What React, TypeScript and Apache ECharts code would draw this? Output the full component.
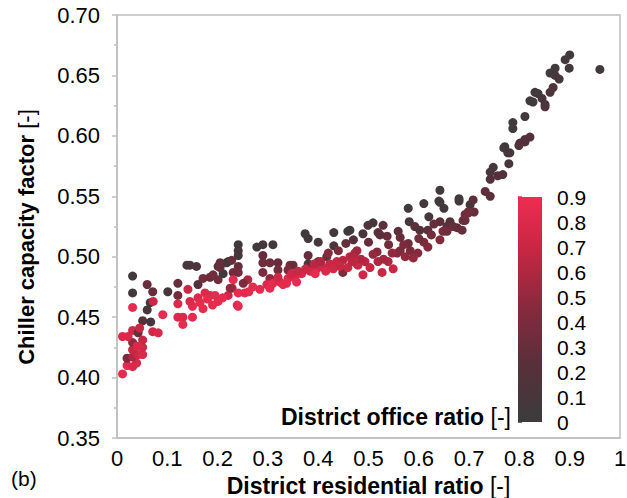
import React, { useEffect, useRef } from "react";
import * as echarts from "echarts";

// District residential ratio [-]
const resRatio = [
  0.011, 0.020, 0.031, 0.020, 0.039, 0.031, 0.042, 0.051, 0.031, 0.051,
  0.031, 0.051, 0.011, 0.022, 0.031, 0.042, 0.051, 0.067, 0.071, 0.082,
  0.031, 0.031, 0.031, 0.060, 0.071, 0.066, 0.060, 0.072, 0.091, 0.101,
  0.040, 0.045,
  0.121, 0.121, 0.121, 0.121, 0.131, 0.131, 0.141, 0.150, 0.150, 0.145,
  0.161, 0.161, 0.171, 0.171, 0.145, 0.158, 0.139, 0.185, 0.185, 0.201,
  0.201, 0.201, 0.211, 0.221, 0.229, 0.239, 0.231, 0.218, 0.191, 0.241,
  0.241, 0.241, 0.221, 0.205, 0.205, 0.175, 0.241, 0.241, 0.165, 0.180,
  0.231, 0.260, 0.251, 0.225, 0.241, 0.254, 0.241, 0.228, 0.195, 0.210,
  0.190,
  0.374, 0.380, 0.400, 0.431, 0.459, 0.431, 0.278, 0.290, 0.310, 0.290,
  0.290, 0.304, 0.320, 0.320, 0.290, 0.304, 0.344, 0.350, 0.340, 0.380,
  0.380, 0.400, 0.417, 0.449,
  0.284, 0.298, 0.310, 0.324, 0.340, 0.354, 0.367, 0.384, 0.397, 0.410,
  0.423, 0.437, 0.449, 0.463, 0.473, 0.459, 0.330, 0.357, 0.304, 0.477,
  0.270, 0.262, 0.347, 0.375, 0.392, 0.405, 0.415, 0.430, 0.443, 0.360,
  0.320, 0.337, 0.394,
  0.470, 0.455, 0.440, 0.420,
  0.579, 0.610, 0.640, 0.650, 0.680, 0.702, 0.620, 0.581, 0.509, 0.499,
  0.529, 0.489, 0.519, 0.537, 0.559, 0.563, 0.592, 0.602, 0.618, 0.642,
  0.656, 0.662, 0.676, 0.686, 0.698, 0.692, 0.648, 0.642, 0.618, 0.579,
  0.583, 0.598, 0.589, 0.563, 0.557, 0.547, 0.539, 0.549, 0.573, 0.517,
  0.509, 0.519, 0.527, 0.489, 0.503, 0.493, 0.477, 0.469, 0.479, 0.467,
  0.463, 0.540, 0.500, 0.523, 0.630, 0.668, 0.688, 0.710, 0.656, 0.530,
  0.485, 0.610, 0.625, 0.600, 0.570,
  0.642, 0.642, 0.680, 0.708, 0.698, 0.692, 0.732, 0.742, 0.742, 0.748,
  0.742, 0.767, 0.757, 0.779, 0.777, 0.771, 0.799, 0.811, 0.821,
  0.900, 0.891, 0.899, 0.960, 0.871, 0.861, 0.871, 0.879, 0.867, 0.861,
  0.831, 0.837, 0.821, 0.845, 0.851, 0.851, 0.827, 0.787, 0.787, 0.811,
  0.811, 0.801, 0.769, 0.781,
];

// Chiller capacity factor [-]
const capFactor = [
  0.403, 0.410, 0.409, 0.416, 0.412, 0.417, 0.419, 0.419, 0.423, 0.425,
  0.429, 0.431, 0.434, 0.434, 0.439, 0.437, 0.447, 0.446, 0.438, 0.437,
  0.458, 0.470, 0.484, 0.477, 0.471, 0.462, 0.456, 0.463, 0.452, 0.471,
  0.426, 0.441,
  0.478, 0.468, 0.461, 0.450, 0.450, 0.444, 0.473, 0.450, 0.459, 0.463,
  0.466, 0.477, 0.457, 0.482, 0.493, 0.492, 0.493, 0.468, 0.483, 0.463,
  0.481, 0.492, 0.486, 0.468, 0.474, 0.460, 0.487, 0.495, 0.485, 0.510,
  0.505, 0.501, 0.496, 0.495, 0.491, 0.470, 0.492, 0.487, 0.462, 0.465,
  0.481, 0.481, 0.478, 0.474, 0.470, 0.470, 0.459, 0.497, 0.468, 0.466,
  0.460,
  0.519, 0.515, 0.512, 0.520, 0.521, 0.509, 0.508, 0.510, 0.510, 0.501,
  0.495, 0.495, 0.495, 0.489, 0.487, 0.482, 0.493, 0.493, 0.489, 0.501,
  0.494, 0.496, 0.500, 0.487,
  0.473, 0.477, 0.478, 0.479, 0.482, 0.483, 0.486, 0.488, 0.490, 0.491,
  0.494, 0.496, 0.497, 0.500, 0.503, 0.491, 0.477, 0.479, 0.474, 0.494,
  0.475, 0.471, 0.486, 0.490, 0.494, 0.496, 0.488, 0.490, 0.492, 0.488,
  0.483, 0.478, 0.486,
  0.514, 0.511, 0.505, 0.503,
  0.540, 0.544, 0.546, 0.540, 0.546, 0.543, 0.533, 0.529, 0.528, 0.526,
  0.526, 0.519, 0.520, 0.517, 0.521, 0.516, 0.525, 0.522, 0.522, 0.529,
  0.525, 0.529, 0.524, 0.522, 0.536, 0.530, 0.521, 0.514, 0.508, 0.511,
  0.505, 0.503, 0.499, 0.505, 0.503, 0.503, 0.496, 0.490, 0.500, 0.504,
  0.502, 0.496, 0.487, 0.485, 0.491, 0.496, 0.505, 0.500, 0.493, 0.496,
  0.522, 0.510, 0.512, 0.518, 0.527, 0.525, 0.530, 0.537, 0.521, 0.498,
  0.498, 0.512, 0.518, 0.515, 0.510,
  0.555, 0.545, 0.548, 0.547, 0.537, 0.535, 0.554, 0.550, 0.564, 0.574,
  0.570, 0.568, 0.567, 0.577, 0.586, 0.591, 0.592, 0.595, 0.599,
  0.667, 0.663, 0.656, 0.655, 0.656, 0.652, 0.650, 0.647, 0.640, 0.636,
  0.636, 0.635, 0.629, 0.631, 0.626, 0.624, 0.628, 0.611, 0.606, 0.616,
  0.597, 0.594, 0.590, 0.586,
];

// District office ratio [-]
const officeRatio = [
  0.85, 0.85, 0.80, 0.40, 0.80, 0.60, 0.75, 0.80, 0.70, 0.75,
  0.50, 0.70, 0.80, 0.80, 0.75, 0.30, 0.20, 0.10, 0.75, 0.80,
  0.85, 0.05, 0.05, 0.30, 0.30, 0.10, 0.10, 0.70, 0.85, 0.10,
  0.80, 0.70,
  0.30, 0.35, 0.80, 0.80, 0.80, 0.85, 0.70, 0.85, 0.85, 0.80,
  0.80, 0.20, 0.85, 0.35, 0.10, 0.15, 0.10, 0.80, 0.30, 0.85,
  0.35, 0.10, 0.05, 0.75, 0.60, 0.85, 0.35, 0.10, 0.35, 0.05,
  0.10, 0.10, 0.05, 0.30, 0.30, 0.80, 0.30, 0.35, 0.85, 0.85,
  0.85, 0.60, 0.40, 0.50, 0.85, 0.85, 0.85, 0.30, 0.85, 0.85,
  0.85,
  0.05, 0.05, 0.10, 0.05, 0.05, 0.10, 0.05, 0.10, 0.05, 0.30,
  0.35, 0.35, 0.30, 0.35, 0.40, 0.50, 0.35, 0.30, 0.40, 0.30,
  0.15, 0.35, 0.30, 0.40,
  0.85, 0.80, 0.85, 0.80, 0.80, 0.80, 0.80, 0.75, 0.75, 0.75,
  0.70, 0.70, 0.65, 0.65, 0.60, 0.70, 0.85, 0.85, 0.85, 0.70,
  0.85, 0.85, 0.75, 0.70, 0.65, 0.60, 0.80, 0.75, 0.70, 0.70,
  0.75, 0.85, 0.85,
  0.20, 0.30, 0.40, 0.45,
  0.05, 0.05, 0.05, 0.05, 0.10, 0.10, 0.10, 0.10, 0.10, 0.15,
  0.25, 0.10, 0.25, 0.30, 0.25, 0.30, 0.25, 0.20, 0.25, 0.25,
  0.25, 0.20, 0.25, 0.30, 0.30, 0.35, 0.40, 0.45, 0.45, 0.35,
  0.40, 0.45, 0.50, 0.40, 0.45, 0.50, 0.60, 0.70, 0.50, 0.45,
  0.50, 0.60, 0.70, 0.75, 0.70, 0.65, 0.55, 0.60, 0.70, 0.65,
  0.05, 0.35, 0.30, 0.25, 0.30, 0.30, 0.30, 0.30, 0.35, 0.55,
  0.60, 0.40, 0.35, 0.35, 0.40,
  0.05, 0.05, 0.05, 0.25, 0.35, 0.35, 0.25, 0.25, 0.20, 0.10,
  0.10, 0.20, 0.20, 0.10, 0.10, 0.05, 0.15, 0.15, 0.20,
  0.05, 0.05, 0.05, 0.05, 0.05, 0.05, 0.10, 0.10, 0.15, 0.15,
  0.05, 0.05, 0.05, 0.10, 0.10, 0.15, 0.05, 0.05, 0.05, 0.05,
  0.20, 0.20, 0.05, 0.10,
];

const xTicks = [0, 0.1, 0.2, 0.3, 0.4, 0.5, 0.6, 0.7, 0.8, 0.9, 1];
const colorStops = ["#3b3b3d", "#57303a", "#852a3d", "#c42641", "#ee2c52"];

const FONT = "'Liberation Sans', Arial, sans-serif";
const AXIS_GRAY = "#bfbfbf";

export default function App() {
  const ref = useRef<HTMLDivElement>(null);

  useEffect(() => {
    if (!ref.current) return;
    const chart = echarts.init(ref.current, undefined, { renderer: "svg" });
    const data = resRatio.map((x, i) => [x, capFactor[i], officeRatio[i]]);

    const stops = colorStops.map((c, i) => ({ offset: i / (colorStops.length - 1), color: c }));
    const barGradient = new echarts.graphic.LinearGradient(0, 1, 0, 0, stops);

    chart.setOption({
      animation: false,
      backgroundColor: "#ffffff",
      textStyle: { fontFamily: FONT },
      grid: [
        {
          left: 117, top: 15, width: 503, height: 423,
          outerBoundsMode: "none", containLabel: false,
          show: true, borderColor: AXIS_GRAY, borderWidth: 1.5,
          backgroundColor: "transparent",
        },
        {
          left: 518, top: 197, width: 24, height: 225,
          outerBoundsMode: "none", containLabel: false,
          show: true, borderWidth: 0, backgroundColor: barGradient,
        },
      ],
      xAxis: [
        {
          type: "value", gridIndex: 0, min: 0, max: 1, interval: 0.1,
          splitLine: { show: false },
          axisLine: { show: true, lineStyle: { color: AXIS_GRAY, width: 1.5 } },
          axisTick: { show: false },
          axisLabel: {
            fontSize: 22, color: "#000", fontFamily: FONT, margin: 9,
            formatter: (v: number) => {
              const t = xTicks.find((k) => Math.abs(k - v) < 1e-9);
              const val = t === undefined ? v : t;
              return val === 0 ? "0" : val === 1 ? "1" : val.toFixed(1);
            },
          },
          name: "{b|District residential ratio }{n|[-]}",
          nameLocation: "middle",
          nameGap: 35,
          nameTextStyle: {
            lineHeight: 24,
            rich: {
              b: { fontSize: 23, lineHeight: 24, fontWeight: "bold", color: "#000", fontFamily: FONT },
              n: { fontSize: 23, lineHeight: 24, color: "#000", fontFamily: FONT },
            },
          },
        },
        { type: "value", gridIndex: 1, min: 0, max: 1, show: false },
      ],
      yAxis: [
        {
          type: "value", gridIndex: 0, min: 0.35, max: 0.7, interval: 0.05,
          splitLine: { show: false },
          axisLine: { show: true, lineStyle: { color: AXIS_GRAY, width: 1.5 } },
          axisTick: { show: true, length: 5, lineStyle: { color: AXIS_GRAY, width: 1.5 } },
          minorTick: { show: true, splitNumber: 2, length: 3, lineStyle: { color: AXIS_GRAY, width: 1.5 } },
          axisLabel: {
            fontSize: 22, color: "#000", fontFamily: FONT, margin: 17,
            formatter: (v: number) => v.toFixed(2),
          },
        },
        {
          type: "value", gridIndex: 1, min: 0, max: 0.9, interval: 0.1,
          position: "right",
          splitLine: { show: false },
          axisLine: { show: false },
          axisTick: {
            show: true, length: 4,
            lineStyle: {
              width: 1.5,
              color: new echarts.graphic.LinearGradient(0, 422, 0, 197, stops, true),
            },
          },
          axisLabel: {
            fontSize: 21, color: "#000", fontFamily: FONT, margin: 15,
            formatter: (v: number) => (v === 0 ? "0" : v.toFixed(1)),
          },
        },
      ],
      visualMap: {
        type: "continuous", show: false, dimension: 2, seriesIndex: 0,
        min: 0, max: 0.9,
        inRange: { color: colorStops },
      },
      graphic: [
        {
          type: "text", x: 26, y: 237, rotation: Math.PI / 2,
          style: {
            text: "{b|Chiller capacity factor }{n|[-]}",
            fill: "#000", align: "center", verticalAlign: "middle",
            rich: {
              b: { fontSize: 22, fontWeight: "bold", fill: "#000", fontFamily: FONT },
              n: { fontSize: 22, fill: "#000", fontFamily: FONT },
            },
          },
        },
        {
          type: "text", x: 11, y: 478,
          style: {
            text: "(b)", font: `21px ${FONT}`, fill: "#000",
            align: "left", verticalAlign: "middle",
          },
        },
        {
          type: "text", x: 511, y: 417,
          style: {
            text: "{b|District office ratio }{n|[-]}",
            fill: "#000", align: "right", verticalAlign: "middle",
            rich: {
              b: { fontSize: 23, fontWeight: "bold", fill: "#000", fontFamily: FONT },
              n: { fontSize: 23, fill: "#000", fontFamily: FONT },
            },
          },
        },
      ],
      series: [
        {
          type: "scatter", xAxisIndex: 0, yAxisIndex: 0,
          symbol: "circle", symbolSize: 9,
          itemStyle: { opacity: 1 },
          data,
        },
      ],
    });

    return () => chart.dispose();
  }, []);

  return (
    <div
      ref={ref}
      style={{ position: "fixed", left: 0, top: 0, width: 627, height: 498 }}
    />
  );
}
